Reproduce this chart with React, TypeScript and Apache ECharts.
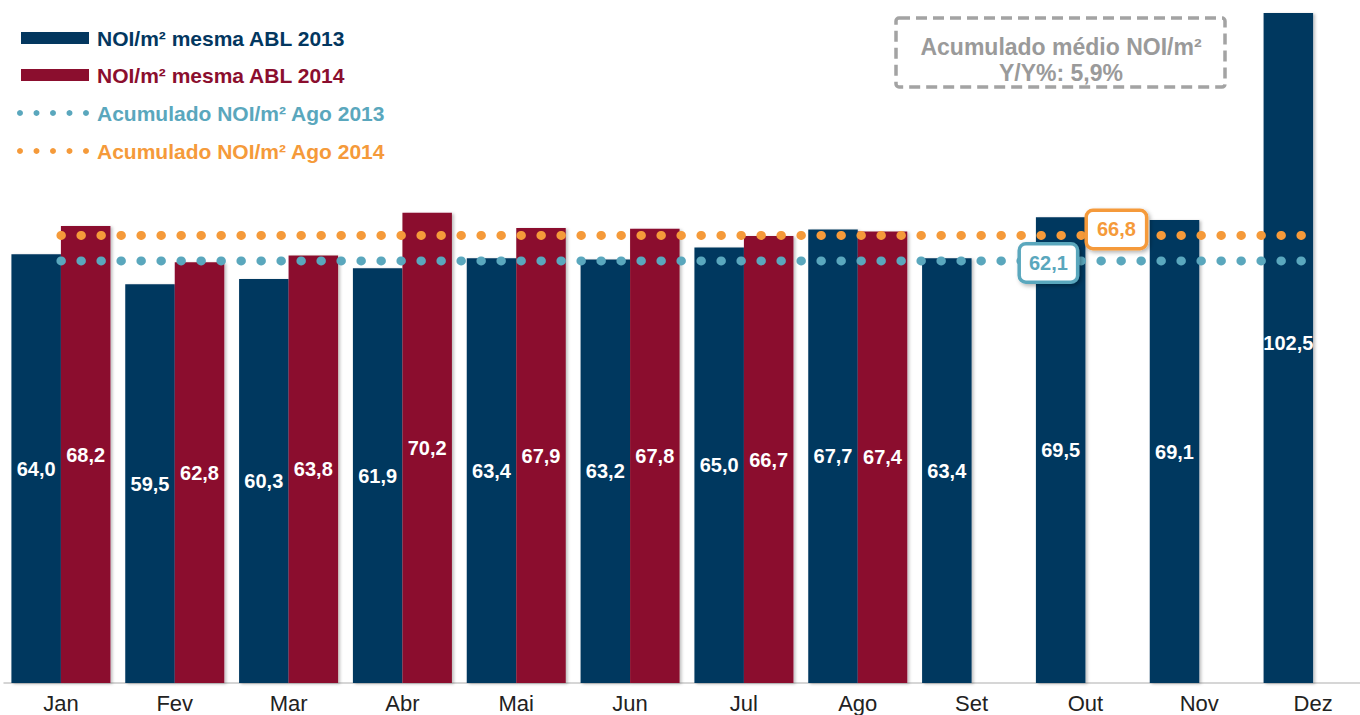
import React, { useEffect, useRef } from "react";
import * as echarts from "echarts";

const MONTHS = ["Jan", "Fev", "Mar", "Abr", "Mai", "Jun", "Jul", "Ago", "Set", "Out", "Nov", "Dez"];
const NOI_2013 = [64.0, 59.5, 60.3, 61.9, 63.4, 63.2, 65.0, 67.7, 63.4, 69.5, 69.1, 102.5];
const NOI_2014 = [68.2, 62.8, 63.8, 70.2, 67.9, 67.8, 66.7, 67.4, null, null, null, null];
// cumulative levels as drawn in the picture, with their printed labels
const ACUM_2013 = [63.0, 63.0, 63.0, 63.0, 63.0, 63.0, 63.0, 63.0, 63.0, 63.0, 63.0, 63.0];
const ACUM_2014 = [66.8, 66.8, 66.8, 66.8, 66.8, 66.8, 66.8, 66.8, 66.8, 66.8, 66.8, 66.8];
const ACUM_2013_LABEL = "62,1";
const ACUM_2014_LABEL = "66,8";
const ACUM_LABEL_MONTH = "Out";
const SERIES_NAMES = [
  "NOI/m² mesma ABL 2013",
  "NOI/m² mesma ABL 2014",
  "Acumulado NOI/m² Ago 2013",
  "Acumulado NOI/m² Ago 2014",
];
const BOX_TEXT = "Acumulado médio NOI/m²\nY/Y%: 5,9%";

const NAVY = "#03375f";
const CRIMSON = "#8b0e2e";
const TEAL = "#5aa7bd";
const ORANGE = "#f59a3a";
const GRAY = "#a3a3a3";
const BOX_TEXT_COLOR = "#9a9a9a";
const FONT = "'Liberation Sans', Arial, Helvetica, sans-serif";

const fmt = (v: number) => v.toFixed(1).replace(".", ",");

export default function App() {
  const ref = useRef<HTMLDivElement>(null);
  useEffect(() => {
    if (!ref.current) return;
    const chart = echarts.init(ref.current, null, { renderer: "svg" });

    const barLabel = {
      show: true,
      position: "inside",
      color: "#ffffff",
      fontSize: 20,
      fontWeight: "bold",
      fontFamily: FONT,
      formatter: (p: any) => fmt(p.value),
    };
    const barShadow = {
      shadowBlur: 3,
      shadowColor: "rgba(0,0,0,0.25)",
      shadowOffsetX: 2,
      shadowOffsetY: 1,
    };

    const legendGraphics: any[] = [];
    const legendY = [38, 75, 113, 151];
    const legendColors = [NAVY, CRIMSON, TEAL, ORANGE];
    for (let i = 0; i < 4; i++) {
      if (i < 2) {
        legendGraphics.push({
          type: "rect",
          shape: { x: 21, y: legendY[i] - 6, width: 68, height: 12 },
          style: { fill: legendColors[i] },
        });
      } else {
        for (let k = 0; k < 5; k++) {
          legendGraphics.push({
            type: "circle",
            shape: { cx: 20 + k * 16.5, cy: legendY[i], r: 3 },
            style: { fill: legendColors[i] },
          });
        }
      }
      legendGraphics.push({
        type: "text",
        x: 97,
        y: legendY[i],
        style: {
          text: SERIES_NAMES[i],
          fill: legendColors[i],
          font: `bold 21px ${FONT}`,
          textVerticalAlign: "middle",
          verticalAlign: "middle",
        },
      });
    }

    const calloutLabel = (color: string, text: string, offset: number[], pad: number[]) => ({
      show: true,
      position: "inside",
      offset,
      formatter: text,
      color,
      fontSize: 20,
      fontWeight: "bold",
      fontFamily: FONT,
      backgroundColor: "#ffffff",
      borderColor: color,
      borderWidth: 3.5,
      borderRadius: 5,
      padding: pad,
      shadowColor: "rgba(0,0,0,0.3)",
      shadowBlur: 4,
      shadowOffsetX: 2,
      shadowOffsetY: 2,
    });

    const dez = NOI_2013.length - 1;
    const data2013 = NOI_2013.map((v, i) =>
      i === dez ? { value: v, label: { offset: [0, -5] } } : v
    );

    chart.setOption({
      animation: false,
      grid: { left: 4, right: 0, top: 13, bottom: 32, containLabel: false },
      xAxis: {
        type: "category",
        data: MONTHS,
        boundaryGap: true,
        axisLine: { show: true, lineStyle: { color: "#c8c8c8", width: 1.5 } },
        axisTick: { show: false },
        axisLabel: { color: "#222222", fontSize: 22, fontFamily: FONT, margin: 9 },
      },
      yAxis: {
        type: "value",
        min: 0,
        max: 100,
        show: false,
        splitLine: { show: false },
      },
      series: [
        {
          name: SERIES_NAMES[0],
          type: "bar",
          data: data2013,
          barWidth: 49.5,
          barGap: "0%",
          clip: true,
          itemStyle: { color: NAVY, ...barShadow },
          label: barLabel,
          z: 2,
        },
        {
          name: SERIES_NAMES[1],
          type: "bar",
          data: NOI_2014,
          barWidth: 49.5,
          barGap: "0%",
          itemStyle: { color: CRIMSON, ...barShadow },
          label: barLabel,
          z: 2,
        },
        {
          name: SERIES_NAMES[2],
          type: "line",
          data: ACUM_2013,
          symbol: "none",
          lineStyle: { color: TEAL, width: 9, type: [0.5, 19.5], cap: "round" },
          z: 3,
          markPoint: {
            symbol: "circle",
            symbolSize: 0,
            data: [
              {
                coord: [ACUM_LABEL_MONTH, ACUM_2013[0]],
                label: calloutLabel(TEAL, ACUM_2013_LABEL, [-37, 2], [8, 8, 7, 8]),
              },
            ],
            z: 5,
          },
        },
        {
          name: SERIES_NAMES[3],
          type: "line",
          data: ACUM_2014,
          symbol: "none",
          lineStyle: { color: ORANGE, width: 9, type: [0.5, 19.5], cap: "round" },
          z: 3,
          markPoint: {
            symbol: "circle",
            symbolSize: 0,
            data: [
              {
                coord: [ACUM_LABEL_MONTH, ACUM_2014[0]],
                label: calloutLabel(ORANGE, ACUM_2014_LABEL, [31, -6], [8, 9, 7, 9]),
              },
            ],
            z: 5,
          },
        },
      ],
      graphic: [
        ...legendGraphics,
        {
          type: "rect",
          shape: { x: 896, y: 18, width: 329, height: 69, r: 3 },
          style: { fill: "none", stroke: GRAY, lineWidth: 3.5, lineDash: [11, 6] },
        },
        {
          type: "text",
          x: 1061,
          y: 60,
          style: {
            text: BOX_TEXT,
            fill: BOX_TEXT_COLOR,
            font: `bold 23px ${FONT}`,
            lineHeight: 26,
            align: "center",
            textAlign: "center",
            verticalAlign: "middle",
            textVerticalAlign: "middle",
          },
        },
      ],
    });
    return () => chart.dispose();
  }, []);
  return (
    <div style={{ position: "fixed", left: 0, top: 0, width: 1360, height: 715, overflow: "hidden", background: "#fff" }}>
      <div ref={ref} style={{ position: "absolute", left: 0, top: 0, width: 1370, height: 715 }} />
    </div>
  );
}
